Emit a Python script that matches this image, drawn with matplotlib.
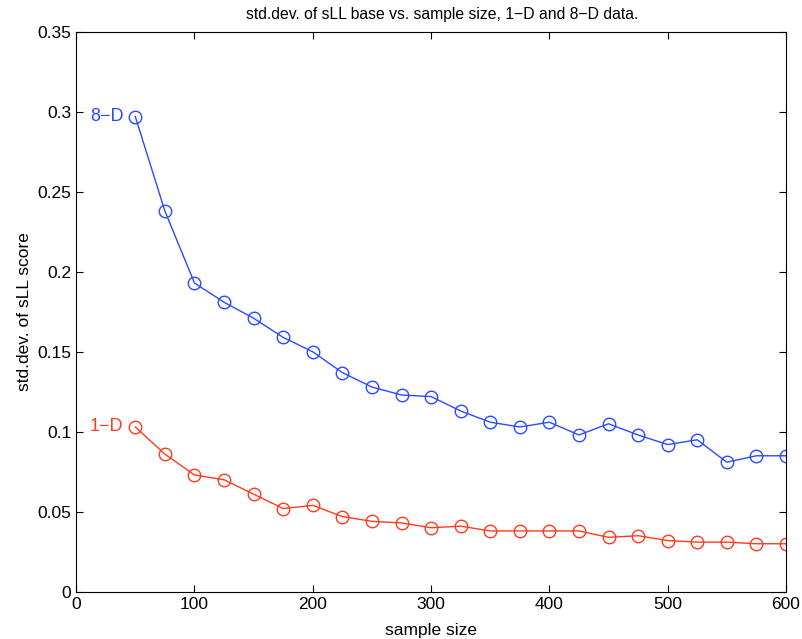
import matplotlib
matplotlib.use("Agg")
import matplotlib.pyplot as plt

plt.rcParams['font.family'] = ['Liberation Sans', 'DejaVu Sans']

# sample sizes and std.dev. of the sLL score for each dimensionality
sample_size = [50, 75, 100, 125, 150, 175, 200, 225, 250, 275, 300, 325, 350,
               375, 400, 425, 450, 475, 500, 525, 550, 575, 600]
std_8d = [0.297, 0.238, 0.193, 0.181, 0.171, 0.159, 0.150, 0.137, 0.128, 0.123,
          0.122, 0.113, 0.106, 0.103, 0.106, 0.098, 0.105, 0.098, 0.092, 0.095,
          0.081, 0.085, 0.085]
std_1d = [0.103, 0.086, 0.073, 0.070, 0.061, 0.052, 0.054, 0.047, 0.044, 0.043,
          0.040, 0.041, 0.038, 0.038, 0.038, 0.038, 0.034, 0.035, 0.032, 0.031,
          0.031, 0.030, 0.030]

blue = '#2a4bff'
red = '#ff3b1e'

fig = plt.figure(figsize=(8.02, 6.39), dpi=100)
ax = fig.add_axes([0.095, 0.074, 0.885, 0.876])

ax.plot(sample_size, std_8d, '-o', color=blue, mfc='none', mec=blue,
        markersize=9, lw=1, mew=1)
ax.plot(sample_size, std_1d, '-o', color=red, mfc='none', mec=red,
        markersize=9, lw=1, mew=1)

# curve labels just left of the first point
ax.text(sample_size[0] - 10, std_8d[0], '8\u2212D', color=blue, fontsize=13,
        ha='right', va='center')
ax.text(sample_size[0] - 10, std_1d[0], '1\u2212D', color=red, fontsize=13,
        ha='right', va='center')

ax.set_xlim(0, 600)
ax.set_ylim(0, 0.35)
ax.set_xticks([0, 100, 200, 300, 400, 500, 600])
ax.set_yticks([0, 0.05, 0.1, 0.15, 0.2, 0.25, 0.3, 0.35])
ax.set_yticklabels(['0', '0.05', '0.1', '0.15', '0.2', '0.25', '0.3', '0.35'])
ax.tick_params(direction='in', top=True, right=True, labelsize=12.5, length=5)

ax.set_xlabel('sample size', fontsize=12.5, labelpad=8)
ax.set_ylabel('std.dev. of sLL score', fontsize=12.5, labelpad=4)
ax.set_title('std.dev. of sLL base vs. sample size, 1\u2212D and 8\u2212D data.',
             fontsize=11.3, pad=9, x=0.515)

fig.savefig('out.png', dpi=100)
